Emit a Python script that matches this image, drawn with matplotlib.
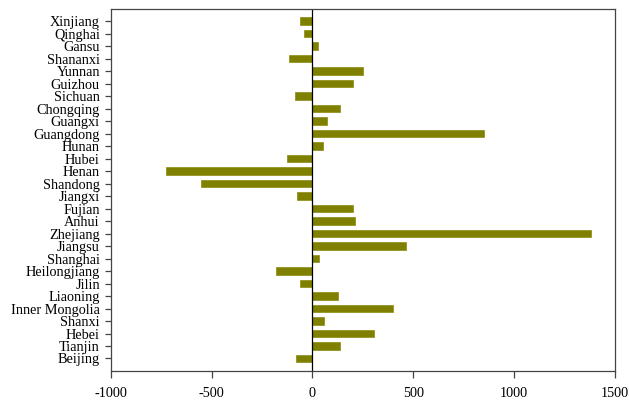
import matplotlib
matplotlib.use("Agg")
import matplotlib.pyplot as plt

plt.rcParams['font.family'] = ['Liberation Serif', 'DejaVu Serif']

provinces = ['Beijing', 'Tianjin', 'Hebei', 'Shanxi', 'Inner Mongolia', 'Liaoning',
             'Jilin', 'Heilongjiang', 'Shanghai', 'Jiangsu', 'Zhejiang', 'Anhui',
             'Fujian', 'Jiangxi', 'Shandong', 'Henan', 'Hubei', 'Hunan', 'Guangdong',
             'Guangxi', 'Chongqing', 'Sichuan', 'Guizhou', 'Yunnan', 'Shananxi',
             'Gansu', 'Qinghai', 'Xinjiang']
values = [-84, 137, 303, 58, 400, 129,
          -64, -179, 30, 466, 1380, 213,
          199, -78, -552, -727, -129, 54, 851,
          72, 137, -88, 203, 253, -116,
          26, -42, -62]
xticks = [-1000, -500, 0, 500, 1000, 1500]

fig = plt.figure(figsize=(6.29, 4.04), dpi=100)
ax = fig.add_axes([0.1765, 0.0817, 0.8008, 0.897])

ypos = list(range(len(provinces)))
ax.barh(ypos, values, height=0.62, color='#808000', edgecolor='#8a8a10', linewidth=0.5)
ax.axvline(0, color='black', linewidth=0.9)

ax.set_yticks(ypos)
ax.set_yticklabels(provinces, fontsize=10.3)
ax.set_xticks(xticks)
ax.set_xticklabels([str(t) for t in xticks], fontsize=10.3)
ax.set_xlim(-1000, 1500)
ax.set_ylim(-1, len(provinces))

for s in ax.spines.values():
    s.set_color('#444444')
    s.set_linewidth(0.9)
ax.tick_params(axis='y', direction='out', length=4, width=0.9, color='#444444', pad=4)
ax.tick_params(axis='x', direction='out', length=5, width=0.9, color='#444444', pad=6.5)

fig.savefig('out.png', dpi=100)
